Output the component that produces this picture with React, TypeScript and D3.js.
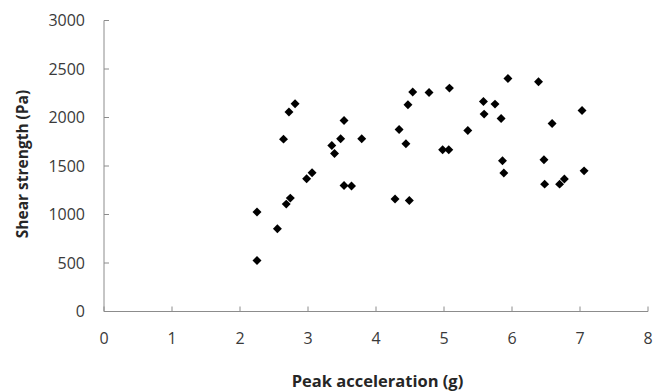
import React from "react";
import * as d3 from "d3";

const accel = [2.25, 2.25, 2.55, 2.68, 2.74, 2.98, 3.06, 3.53, 3.64, 4.28, 4.49, 2.81, 2.72, 2.64, 3.53, 3.48, 3.79, 3.35, 3.39, 4.54, 4.47, 4.34, 4.44, 4.78, 5.08, 4.98, 5.07, 5.35, 5.58, 5.75, 5.59, 5.84, 5.94, 6.39, 5.86, 5.88, 6.47, 6.48, 6.70, 6.77, 6.59, 7.03, 7.06];
const shear = [1025, 526, 853, 1107, 1169, 1368, 1430, 1299, 1293, 1159, 1144, 2141, 2056, 1777, 1969, 1780, 1780, 1711, 1629, 2262, 2131, 1876, 1729, 2258, 2303, 1667, 1667, 1866, 2165, 2138, 2035, 1990, 2402, 2368, 1554, 1427, 1564, 1313, 1313, 1365, 1938, 2072, 1450];
const xTicks = [0, 1, 2, 3, 4, 5, 6, 7, 8];
const yTicks = [0, 500, 1000, 1500, 2000, 2500, 3000];

export default function App() {
  const W = 658, H = 392;
  const x = d3.scaleLinear().domain([0, 8]).range([104, 648]);
  const y = d3.scaleLinear().domain([0, 3000]).range([311.5, 20.5]);
  const diamond = d3.symbol().type(d3.symbolSquare).size(40)();
  const axisColor = "#8c8c8c";
  const textColor = "#3a3a3a";
  const font = "'Open Sans', sans-serif";
  return (
    <svg width={W} height={H} style={{ position: "absolute", left: 0, top: 0 }}>
      <rect width={W} height={H} fill="#fff" />
      {/* y axis */}
      <line x1={x(0)} x2={x(0)} y1={y(3000)} y2={y(0)} stroke={axisColor} strokeWidth={1} />
      {yTicks.map((t) => (
        <g key={"y" + t}>
          <line x1={x(0)} x2={x(0) + 5} y1={y(t)} y2={y(t)} stroke={axisColor} />
          <text x={85} y={y(t)} dy="0.35em" textAnchor="end" fontFamily={font} fontSize={16} fill={textColor}>
            {t}
          </text>
        </g>
      ))}
      {/* x axis */}
      <line x1={x(0)} x2={x(8)} y1={y(0)} y2={y(0)} stroke={axisColor} />
      {xTicks.map((t) => (
        <g key={"x" + t}>
          <line x1={x(t)} x2={x(t)} y1={y(0)} y2={y(0) - 5} stroke={axisColor} />
          <text x={x(t)} y={338} dy="0.35em" textAnchor="middle" fontFamily={font} fontSize={16} fill={textColor}>
            {t}
          </text>
        </g>
      ))}
      {accel.map((a, i) => (
        <path key={i} d={diamond} transform={`translate(${x(a)},${y(shear[i])}) rotate(45)`} fill="#000" />
      ))}
      <text x={377.5} y={381.5} dy="0.35em" textAnchor="middle" fontFamily={font} fontSize={16.5} fontWeight="bold" fill="#262626">
        Peak acceleration (g)
      </text>
      <text transform={`translate(22.5,${164}) rotate(-90)`} dy="0.35em" textAnchor="middle" fontFamily={font} fontSize={15.5} fontWeight="bold" fill="#262626">
        Shear strength (Pa)
      </text>
    </svg>
  );
}
